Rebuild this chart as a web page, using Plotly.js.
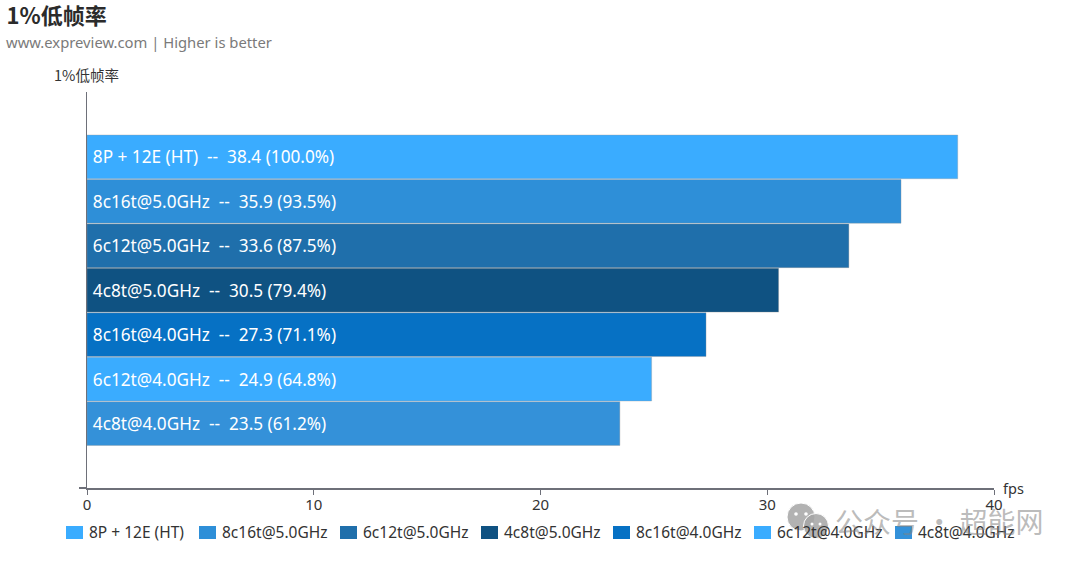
<!DOCTYPE html>
<html><head><meta charset="utf-8">
<script src="https://cdn.plot.ly/plotly-3.0.1.min.js"></script>
<style>html,body{margin:0;padding:0;background:#fff}#c{width:1080px;height:566px}</style>
</head><body><div id="c"></div>
<script>
const categories = ["8P + 12E (HT)","8c16t@5.0GHz","6c12t@5.0GHz","4c8t@5.0GHz","8c16t@4.0GHz","6c12t@4.0GHz","4c8t@4.0GHz"];
const fps = [38.4,35.9,33.6,30.5,27.3,24.9,23.5];
const percents = ["100.0","93.5","87.5","79.4","71.1","64.8","61.2"];
const colors = ["#3AACFF","#2E8FD8","#1F6FAB","#0F5282","#0671C4","#3AACFF","#3491D9"];
const legendLeft = [66,199,340,481,613,754,895];
const FONT = '"Noto Sans","Noto Sans CJK SC",sans-serif';
const CJK = '"Noto Sans CJK SC",sans-serif';
const W = 1080, H = 566, L = 87, R = 86, T = 92, B = 78;
const px = v => (v - L) / (W - L - R);
const py = v => (H - B - v) / (H - T - B);

const traces = categories.map((c,i)=>({
  type:'bar',orientation:'h',name:c,x:[fps[i]],y:[c],width:0.985,showlegend:false,
  marker:{color:colors[i],line:{color:'rgba(150,150,150,0.35)',width:1}},
  text:['\u2009'+c+'  --  '+fps[i].toFixed(1)+' ('+percents[i]+'%)'],
  textposition:'inside',insidetextanchor:'start',constraintext:'none',
  textfont:{family:FONT,size:17.2,color:'#fff'},
  cliponaxis:false,hoverinfo:'skip'
}));

const swatch = (x,c) => {
  const x0=px(x),x1=px(x+17),y0=py(526),y1=py(539);
  return {type:'rect',xref:'paper',yref:'paper',x0,x1,y0,y1,fillcolor:c,line:{width:0}};
};
const shapes = categories.map((c,i)=>swatch(legendLeft[i],colors[i]));
const circ = (cx,cy,r,col,lw) => ({type:'circle',xref:'paper',yref:'paper',x0:px(cx-r),x1:px(cx+r),y0:py(cy+r),y1:py(cy-r),
  fillcolor:col,line:{color:'#fff',width:lw},layer:'above'});
shapes.push(circ(801,517,14,'rgba(165,165,165,0.85)',1), circ(816,526,12.5,'rgba(165,165,165,0.85)',1));
[[796,514,1.8],[806,514,1.8],[812,524,1.5],[820,524,1.5]].forEach(e=>shapes.push(circ(e[0],e[1],e[2],'#fff',0)));

const legendAnn = categories.map((c,i)=>({xref:'paper',yref:'paper',x:px(legendLeft[i]+21),y:py(532),xanchor:'left',yanchor:'middle',
  showarrow:false,text:c,font:{size:15.5,color:'#333',family:FONT}}));

const layout = {
  width:W,height:H,paper_bgcolor:'#fff',plot_bgcolor:'#fff',
  margin:{l:L,r:R,t:T,b:B},
  barmode:'overlay',showlegend:false,
  font:{family:FONT,color:'#333'},
  title:{text:'<b>1%低帧率</b>',font:{family:CJK,size:22,color:'#2b2b2b'},
    x:0.006,xanchor:'left',y:0.972,yanchor:'middle',xref:'container',yref:'container'},
  xaxis:{range:[0,40],tickmode:'array',tickvals:[0,10,20,30,40],ticks:'outside',ticklen:5,tickwidth:1,tickcolor:'#6e7079',
    showgrid:false,zeroline:false,showline:true,linecolor:'#6e7079',linewidth:1.5,ticklabelstandoff:-3,
    tickfont:{size:15,color:'#333',family:FONT}},
  yaxis:{type:'category',categoryorder:'array',categoryarray:categories,range:[7.45,-1.46],
    tickmode:'array',tickvals:[7.45],ticktext:[''],ticks:'outside',ticklen:7,tickwidth:1.5,tickcolor:'#6e7079',
    showgrid:false,zeroline:false,showline:true,linecolor:'#6e7079',linewidth:1.5},
  shapes,
  annotations:legendAnn.concat([
    {xref:'paper',yref:'paper',x:px(52),y:py(74.5),xanchor:'left',yanchor:'middle',showarrow:false,
     text:'1%低帧率',font:{size:14.5,color:'#333',family:CJK}},
    {xref:'paper',yref:'paper',x:px(1001),y:py(488),xanchor:'left',yanchor:'middle',showarrow:false,text:'fps',font:{size:14.5,color:'#333'}},
    {xref:'paper',yref:'paper',x:px(4),y:py(42),xanchor:'left',yanchor:'middle',showarrow:false,
     text:'www.expreview.com | Higher is better',font:{size:14.8,color:'#7a7a7a'}},
    {xref:'paper',yref:'paper',x:px(833),y:py(521),xanchor:'left',yanchor:'middle',showarrow:false,
     text:'公众号 · 超能网',font:{size:28,color:'rgba(130,130,130,0.55)',family:CJK}}
  ])
};
Plotly.newPlot('c',traces,layout,{displayModeBar:false,staticPlot:true});
</script></body></html>
